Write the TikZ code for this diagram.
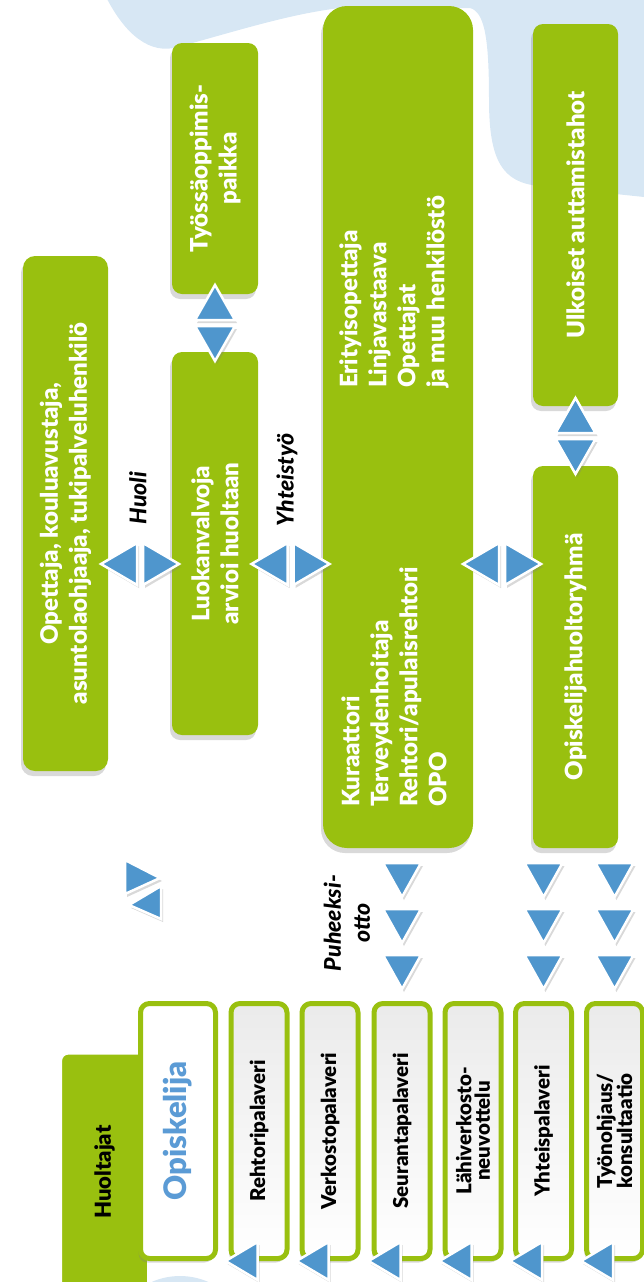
\documentclass[tikz,border=0pt]{standalone}
\usepackage{fontspec}
\setmainfont{Lato}[BoldFont={Lato Black}, BoldItalicFont={Lato Black Italic}]
\usetikzlibrary{shadows}

\definecolor{boxgreen}{HTML}{99C00F}
\definecolor{triblue}{HTML}{4F96CD}
\definecolor{namblue}{HTML}{5B9BD5}
\definecolor{blobblue}{HTML}{D7E7F4}

\tikzset{
  greenbox/.style={fill=boxgreen, rounded corners=10pt, rotate=90, inner sep=0pt,
    align=center, text=white, font=\bfseries\fontsize{24}{29}\selectfont,
    drop shadow={shadow xshift=-2pt, shadow yshift=-5pt, opacity=.3}},
  boxtext/.style={rotate=90, inner sep=0pt, align=left, text=white,
    font=\bfseries\fontsize{24}{29}\selectfont},
  meetbox/.style={draw=boxgreen, fill=white, line width=5pt, rounded corners=9pt, rotate=90,
    minimum width=255pt, minimum height=56pt, inner sep=0pt, align=center,
    font=\bfseries\fontsize{20.5}{18.5}\selectfont,
    drop shadow={shadow xshift=-2pt, shadow yshift=-4pt, opacity=.3}},
  palaveri/.style={meetbox, top color=black!8, middle color=white, bottom color=white},
  tri/.style={fill=triblue, draw=white, line width=2.5pt, line join=miter,
    drop shadow={shadow xshift=2pt, shadow yshift=-3pt, opacity=.3}},
  tag/.style={rotate=90, inner sep=0pt, align=center,
    font=\bfseries\itshape\fontsize{23}{29}\selectfont}
}

\begin{document}
\begin{tikzpicture}[x=1pt, y=-1pt, line join = round]
\useasboundingbox (0,0) rectangle (644,1282);
\clip (0,0) rectangle (644,1282);

\fill[blobblue] (105,-5) .. controls (125,35) and (150,55) .. (178,47)
  .. controls (240,30) and (290,14) .. (340,8) -- (470,8)
  .. controls (485,12) and (489,40) .. (489,100)
  .. controls (489,160) and (502,183) .. (540,186) -- (644,197) -- (644,-5) -- cycle;
\fill[blobblue] (180,1346) circle[radius=70pt];

\node[greenbox, minimum width=515pt, minimum height=85pt, rounded corners=12pt] (opettaja) at (65.5,513.5) {Opettaja, kouluavustaja,\\asuntolaohjaaja, tukipalveluhenkilö};
\node[greenbox, minimum width=251pt, minimum height=86pt] (tyossa) at (215,168.5) {Työssäoppimis-\\paikka};
\node[greenbox, minimum width=383pt, minimum height=86pt] (luokan) at (215,543.5) {Luokanvalvoja\\arvioi huoltaan};
\node[greenbox, minimum width=842pt, minimum height=150pt, rounded corners=24pt] (kura) at (398,427) {};
\node[boxtext, anchor=west] (kuraA) at (394,807) {Kuraattori\\Terveydenhoitaja\\Rehtori/apulaisrehtori\\OPO};
\node[boxtext, anchor=west] (kuraB) at (394,388) {Erityisopettaja\\Linjavastaava\\Opettajat\\ja muu henkilöstö};
\node[greenbox, minimum width=382pt, minimum height=85pt] (ulkoiset) at (575.5,215) {Ulkoiset auttamistahot};
\node[greenbox, minimum width=382pt, minimum height=85pt] (ohr) at (575.5,657) {Opiskelijahuoltoryhmä};

\node[greenbox, draw=white, line width=5pt, text=black, font=\bfseries\fontsize{22}{24}\selectfont,
  minimum width=240pt, minimum height=90pt, rounded corners=9pt] (huoltajat) at (104.5,1172) {Huoltajat};
\node[meetbox, minimum height=75pt, text=namblue, font=\bfseries\fontsize{31}{31}\selectfont] (opiskelija) at (178,1131) {Opiskelija};

\foreach \n/\x/\t in {rehtori/259/Rehtoripalaveri, verkosto/330/Verkostopalaveri,
    seuranta/402/Seurantapalaveri, lahi/473/{Lähiverkosto-\\neuvottelu},
    yhteis/543.5/Yhteispalaveri, tyonohjaus/614.5/{Työnohjaus/\\konsultaatio}}
  \node[palaveri] (\n) at (\x,1131) {\t};

\coordinate (huolipair) at (140,564);
\coordinate (yhteispair) at (290.5,564);
\coordinate (ohrpair) at (502,564);
\coordinate (tyopair) at (215,323);
\coordinate (ulkpair) at (575.5,436);
\coordinate (lonepair) at (143,890);

\foreach \c in {huolipair, yhteispair, ohrpair}{
  \filldraw[tri] (\c) ++(-3,-21) -- ++(0,42) -- ++(-36,-21) -- cycle;
  \filldraw[tri] (\c) ++(3,-21) -- ++(0,42) -- ++(36,-21) -- cycle;
}
\foreach \c in {tyopair, ulkpair}{
  \filldraw[tri] (\c) ++(-20,-3) -- ++(40,0) -- ++(-20,-35) -- cycle;
  \filldraw[tri] (\c) ++(-20,3) -- ++(40,0) -- ++(-20,35) -- cycle;
}
\filldraw[tri] (lonepair) ++(-18,-30) -- ++(0,34) -- ++(35,-16) -- cycle;
\filldraw[tri] (lonepair) ++(18,-4) -- ++(0,33) -- ++(-32,-14) -- cycle;

\foreach \n in {seuranta, yhteis, tyonohjaus}
  \foreach \d in {0,46,92}
    \filldraw[tri] (\n.east) ++(0,-12-\d) -- ++(-19,-34) -- ++(38,0) -- cycle;

\foreach \n in {rehtori, verkosto, seuranta, lahi, yhteis, tyonohjaus}
  \filldraw[tri] (\n.north west) ++(-3,0) -- ++(32,-19) -- ++(0,38) -- cycle;

\node[tag] (huoli) at (138,498) {Huoli};
\node[tag] (yhteistyo) at (287,480) {Yhteistyö};
\node[tag] (puheeksi) at (347,923) {Puheeksi-\\otto};

\end{tikzpicture}
\end{document}
